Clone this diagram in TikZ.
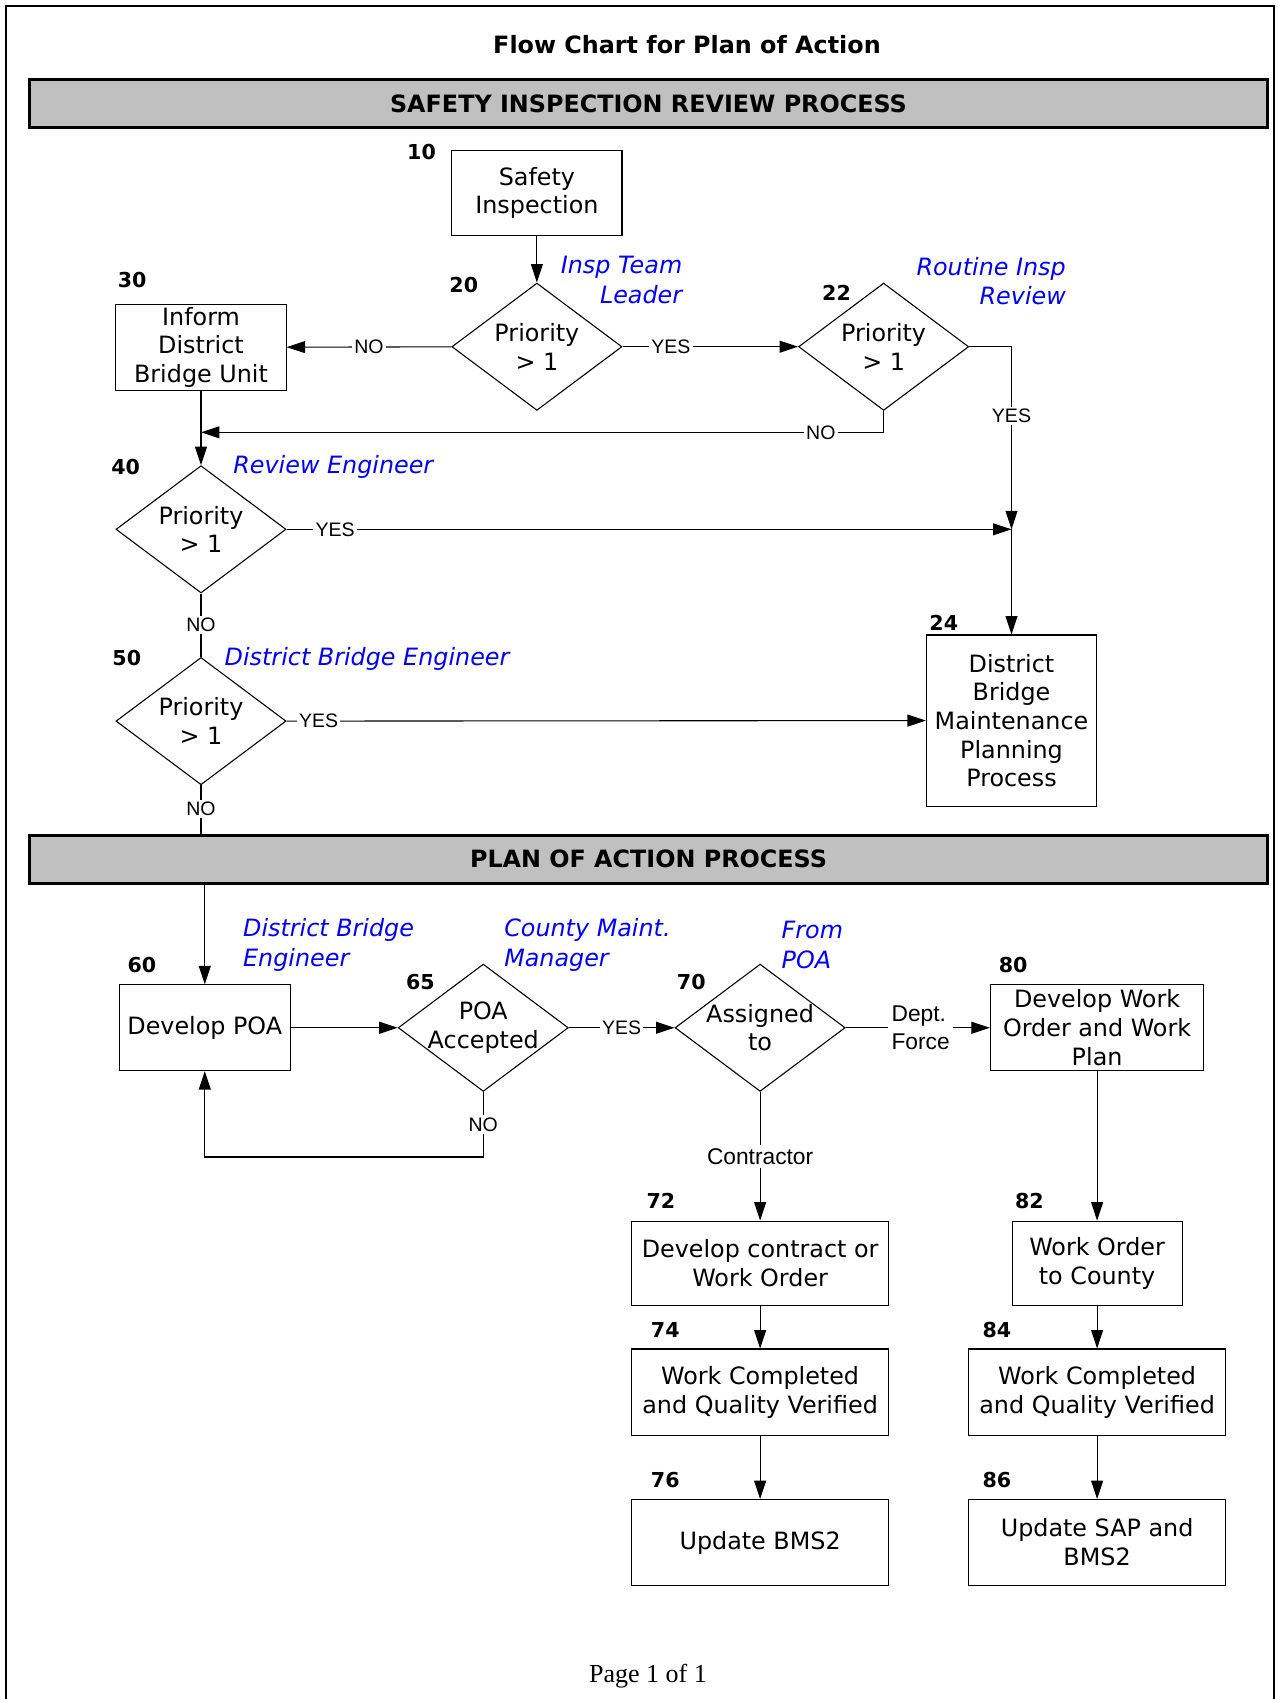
\documentclass[tikz,border=0pt]{standalone}
\usepackage{fontspec}
\setmainfont{DejaVu Sans}
\newfontfamily\lblfont{Liberation Sans}
\newfontfamily\pagefont{Liberation Serif}
\usetikzlibrary{shapes.geometric,arrows.meta}

\newcommand\boxfont{\fontsize{11pt}{13.25pt}\selectfont}
\newcommand\lanefont{\fontsize{11pt}{13.5pt}\selectfont\itshape}
\newcommand\numfont{\fontsize{9.5pt}{11pt}\selectfont\bfseries}
\newcommand\ynfont{\fontsize{9pt}{10pt}\selectfont\lblfont}
\newcommand\edgefont{\fontsize{10.5pt}{13pt}\selectfont\lblfont}

\begin{document}
\begin{tikzpicture}[x=0.5pt,y=-0.5pt,
  box/.style 2 args={draw,line width=0.5pt,minimum width=#1,minimum height=#2,
    inner sep=0pt,align=center,font=\boxfont},
  dia/.style={draw,line width=0.5pt,shape=diamond,aspect=1.33,inner xsep=-8pt,inner ysep=-4pt,
    minimum width=78.5pt,minimum height=58.75pt,align=center,font=\boxfont},
  banner/.style={draw,line width=1.3pt,fill={rgb,255:red,192;green,192;blue,192},
    minimum width=571.5pt,minimum height=#1,inner sep=0pt,font=\boxfont\bfseries},
  num/.style={font=\numfont,inner sep=0pt},
  lane/.style={font=\lanefont,text=blue,inner sep=0pt},
  yn/.style={font=\ynfont,fill=white,inner sep=1pt},
  edgelbl/.style={font=\edgefont,fill=white,inner sep=1.5pt},
  conn/.style={line width=0.5pt},
  arr/.style={conn,-{Triangle[length=8.5pt,width=5.5pt]}}
]
\useasboundingbox (0,0) rectangle (1179,1568);

% page frame, open at the bottom
\draw[line width=0.8pt] (5.5,1590) -- (5.5,5.5) -- (1176,5.5) -- (1176,1590);

% heading
\node[font=\fontsize{11pt}{13pt}\selectfont\bfseries,inner sep=0pt] (title) at (634,41) {Flow Chart for Plan of Action};

% ---------- safety inspection review ----------
\node[banner=22.5pt] (b1) at (598.5,95.5) {SAFETY INSPECTION REVIEW PROCESS};

\node[box={78.5pt}{39.5pt}] (n10) at (495.5,178) {Safety\\Inspection};
\node[dia] (n20) at (495.5,320) {Priority\\> 1};
\node[box={78.5pt}{39.5pt}] (n30) at (185.5,320.5) {Inform\\District\\Bridge Unit};
\node[dia] (n22) at (815.5,320) {Priority\\> 1};
\node[dia] (n40) at (185.5,488.5) {Priority\\> 1};
\node[dia] (n50) at (185.5,665.5) {Priority\\> 1};
\node[box={78.5pt}{79pt}] (n24) at (933.5,665) {District\\Bridge\\Maintenance\\Planning\\Process};

\coordinate (j30) at (185.5,399);
\coordinate (jr) at (933.5,488.5);

% step numbers
\node[num] (l10) at (389,140) {10};
\node[num] (l20) at (428,263) {20};
\node[num] (l22) at (772,270) {22};
\node[num] (l30) at (122,258) {30};
\node[num] (l40) at (116,431) {40};
\node[num] (l50) at (117,607) {50};
\node[num] (l24) at (871,575) {24};

% responsible parties
\node[lane,align=right,anchor=east] (r20) at (630,258.5) {Insp Team\\Leader};
\node[lane,align=right,anchor=east] (r22) at (984,259.5) {Routine Insp\\Review};
\node[lane,anchor=west] (r40) at (215,431) {Review Engineer};
\node[lane,anchor=west] (r50) at (207,608) {District Bridge Engineer};

% connectors
\draw[arr] (n10) -- (n20);
\draw[arr] (n20) -- node[yn,pos=0.5] {NO} (n30);
\draw[arr] (n20) -- node[yn,pos=0.276] {YES} (n22);
\draw[arr] (n22.south) |- node[yn,pos=0.546] {NO} (j30);
\draw[arr] (n30) -- (n40);
\draw[arr] (n22.east) -| node[yn,pos=0.69] {YES} (jr);
\draw[arr] (n40.east) -- node[yn,pos=0.067] {YES} (jr);
\draw[arr] (jr) -- (n24.north);
\draw[conn] (n40.south) -- node[yn,pos=0.5] {NO} (n50.north);
\draw[arr] (n50.east) -- node[yn,pos=0.05] {YES} (n24.west);

% ---------- plan of action ----------
\node[banner=22pt] (b2) at (598.5,793) {PLAN OF ACTION PROCESS};
\draw[conn] (n50.south) -- node[yn,pos=0.49] {NO} (n50.south |- b2.north);

\node[box={79pt}{39.5pt}] (n60) at (189,948.5) {Develop POA};
\node[dia] (n65) at (446,948.5) {POA\\Accepted};
\node[dia] (n70) at (701.5,948.5) {Assigned\\to};
\node[box={98.5pt}{39.5pt}] (n80) at (1012.5,948.5) {Develop Work\\Order and Work\\Plan};
\node[box={118.5pt}{39pt}] (n72) at (701.5,1166) {Develop contract or\\Work Order};
\node[box={118.5pt}{40pt}] (n74) at (701.5,1285) {Work Completed\\and Quality Verified};
\node[box={118.5pt}{39.5pt}] (n76) at (701.5,1423.5) {Update BMS2};
\node[box={78.5pt}{39pt}] (n82) at (1012.5,1166) {Work Order\\to County};
\node[box={118.5pt}{40pt}] (n84) at (1012.5,1285) {Work Completed\\and Quality Verified};
\node[box={118.5pt}{39.5pt}] (n86) at (1012.5,1423.5) {Update SAP and\\BMS2};

\node[num] (l60) at (131,891) {60};
\node[num] (l65) at (388,906) {65};
\node[num] (l70) at (638,906) {70};
\node[num] (l80) at (935,891) {80};
\node[num] (l72) at (610,1108) {72};
\node[num] (l82) at (950,1108) {82};
\node[num] (l74) at (614,1227) {74};
\node[num] (l84) at (920,1227) {84};
\node[num] (l76) at (614,1366) {76};
\node[num] (l86) at (920,1366) {86};

\node[lane,align=left,anchor=west] (r60) at (224,872) {District Bridge\\Engineer};
\node[lane,align=left,anchor=west] (r65) at (465,872) {County Maint.\\Manager};
\node[lane,align=left,anchor=west] (r70) at (721,872) {From\\POA};

\draw[arr] (n60.north |- b2.south) -- (n60.north);
\draw[arr] (n60) -- (n65);
\draw[arr] (n65.south) -- node[yn,pos=0.5] {NO} ++(0,60) -| (n60.south);
\draw[arr] (n65) -- node[yn,pos=0.5] {YES} (n70);
\draw[arr] (n70) -- node[edgelbl,align=left,pos=0.52] {Dept.\\Force} (n80);
\draw[arr] (n70) -- node[edgelbl,pos=0.5] {Contractor} (n72);
\draw[arr] (n72) -- (n74);
\draw[arr] (n74) -- (n76);
\draw[arr] (n80) -- (n82);
\draw[arr] (n82) -- (n84);
\draw[arr] (n84) -- (n86);

% footer
\node[font=\pagefont\fontsize{12pt}{14pt}\selectfont,inner sep=0pt] (pg) at (598,1547) {Page 1 of 1};
\end{tikzpicture}
\end{document}
